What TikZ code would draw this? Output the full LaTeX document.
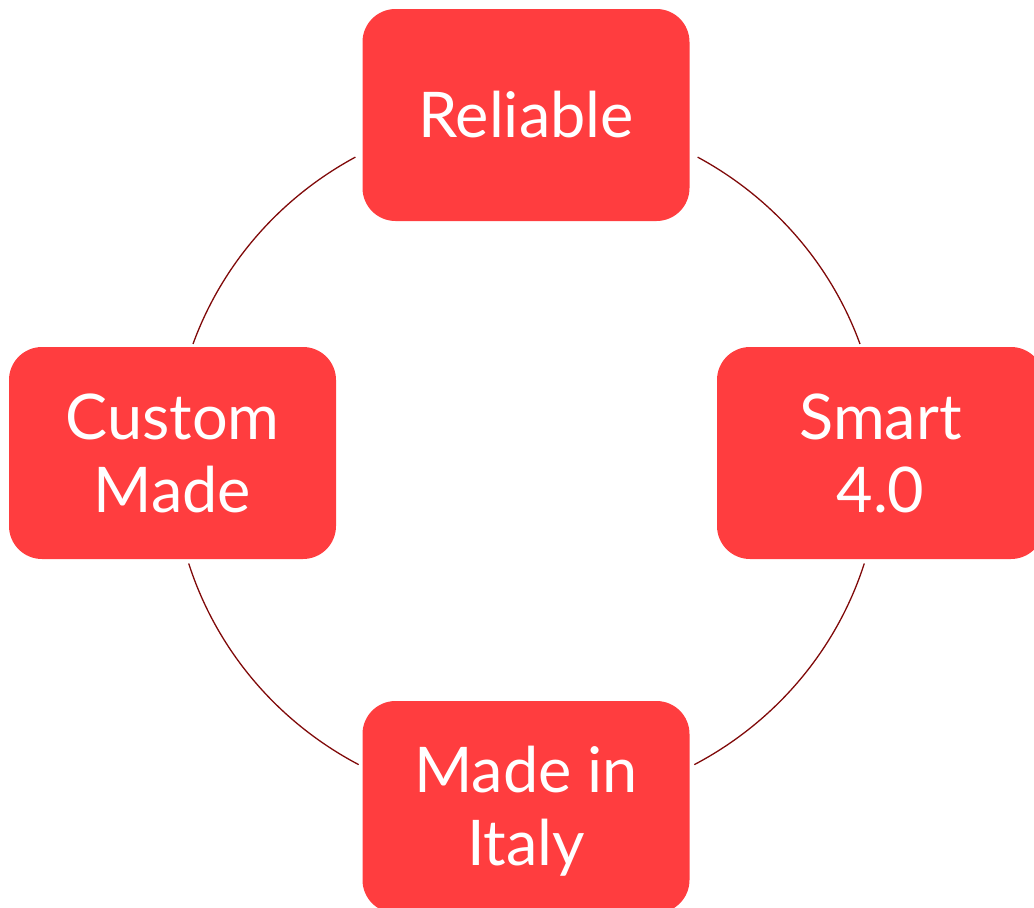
\documentclass[tikz,border=0pt]{standalone}
\usepackage{fontspec}
\setmainfont{Lato}
\usetikzlibrary{calc}
\definecolor{boxred}{RGB}{255,61,63}
\definecolor{arcred}{RGB}{128,10,10}
\tikzset{
  cyclebox/.style={draw=none, fill=boxred, rounded corners=33pt, minimum width=327pt,
    minimum height=212pt, inner sep=0pt, text=white, align=center,
    font=\fontsize{63}{73}\selectfont},
  cyclearc/.style={draw=arcred, line width=1.3pt}
}
\begin{document}
\begin{tikzpicture}[x=1pt,y=1pt]
\useasboundingbox (0,0) rectangle (1034,-908);
\node[cyclebox] (rel) at (526,-115) {Reliable};
\node[cyclebox] (cus) at (172.5,-453) {Custom\\Made};
\node[cyclebox] (sma) at (880.5,-453) {Smart\\4.0};
\node[cyclebox] (ita) at (526,-807) {};
\node[text=white, align=center, font=\fontsize{63}{73}\selectfont, inner sep=0pt] (itat) at (526,-811) {Made in\\Italy};
\coordinate (O) at (526.5,-460);
\coordinate (tl) at ($(O)+(118.9:354pt and 346pt)$);
\coordinate (tr) at ($(O)+(61.1:354pt and 346pt)$);
\coordinate (bl) at ($(O)+(197.4:354pt and 346pt)$);
\coordinate (br) at ($(O)+(342.6:354pt and 346pt)$);
\draw[cyclearc] (tl) arc[start angle=118.9, end angle=160.4, x radius=354pt, y radius=346pt];
\draw[cyclearc] (tr) arc[start angle=61.1, end angle=19.6, x radius=354pt, y radius=346pt];
\draw[cyclearc] (bl) arc[start angle=197.4, end angle=241.7, x radius=354pt, y radius=346pt];
\draw[cyclearc] (br) arc[start angle=342.6, end angle=298.3, x radius=354pt, y radius=346pt];
\end{tikzpicture}
\end{document}
